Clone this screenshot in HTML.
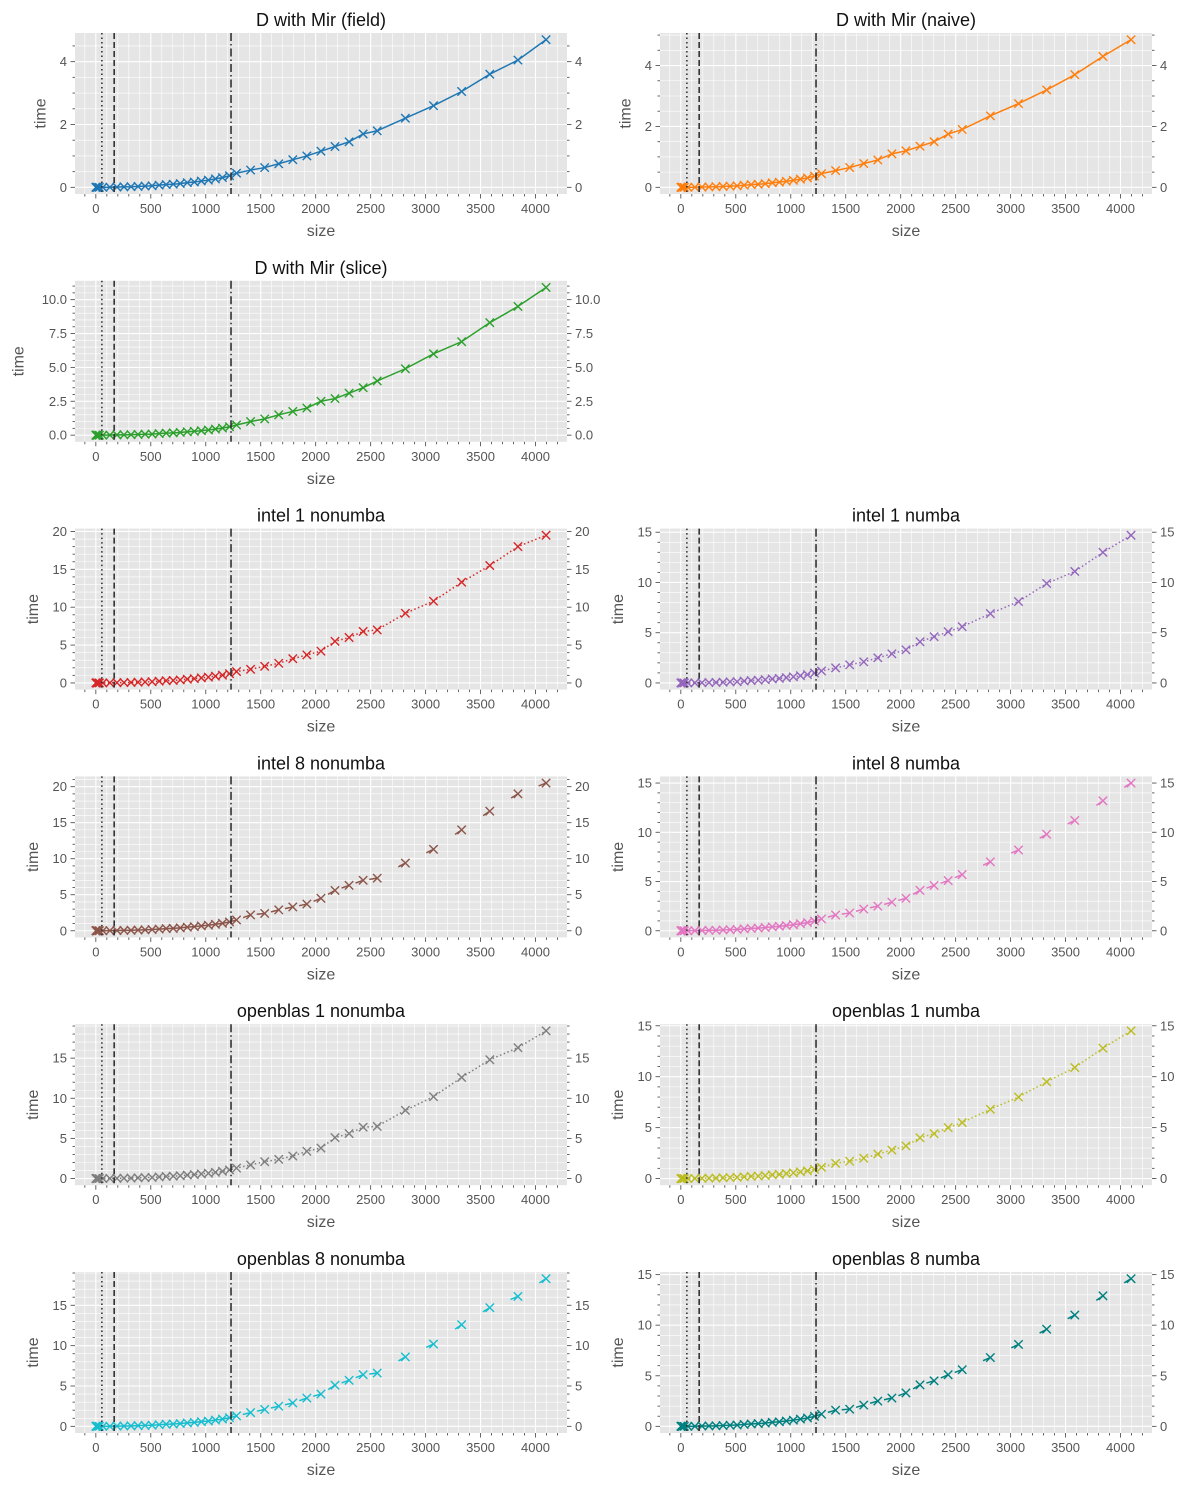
<!DOCTYPE html>
<html><head><meta charset="utf-8"><style>
body{margin:0;background:#fff;}
svg{display:block;font-family:"Liberation Sans","DejaVu Sans",sans-serif;}
</style></head><body>
<svg id="fig" width="1189" height="1489" viewBox="0 0 1189 1489" xmlns="http://www.w3.org/2000/svg">
<rect width="1189" height="1489" fill="#fff"/>
</svg>
<script>
const sizes = [1,2,4,8,16,32,64,128,192,256,320,384,448,512,576,640,704,768,832,896,960,1024,1088,1152,1216,1280,1408,1536,1664,1792,1920,2048,2176,2304,2432,2560,2816,3072,3328,3584,3840,4096];
const vlineSizes = [55,167,1230];
const vlineDash = ["1.5 3","6 3","8 3 1.5 3"];
const fieldTimes = [0,0,0,0,0,0,0,0.005,0.01,0.015,0.02,0.03,0.04,0.05,0.07,0.09,0.1,0.12,0.15,0.17,0.2,0.23,0.27,0.31,0.37,0.45,0.55,0.63,0.75,0.88,1.0,1.15,1.3,1.45,1.7,1.8,2.2,2.6,3.05,3.6,4.05,4.7];
const naiveTimes = [0,0,0,0,0,0,0,0.005,0.01,0.015,0.02,0.03,0.04,0.05,0.07,0.09,0.1,0.12,0.15,0.17,0.2,0.23,0.27,0.31,0.37,0.45,0.55,0.65,0.78,0.9,1.1,1.2,1.35,1.5,1.75,1.9,2.35,2.75,3.2,3.7,4.3,4.85];
const sliceTimes = [0,0,0,0,0,0,0,0.01,0.02,0.025,0.035,0.05,0.07,0.08,0.12,0.15,0.17,0.2,0.25,0.28,0.33,0.38,0.45,0.52,0.62,0.75,1.0,1.2,1.5,1.75,2.0,2.5,2.7,3.1,3.5,4.0,4.9,6.0,6.9,8.3,9.5,10.9];
const intel1NoNumba = [0,0,0,0,0,0,0,0.02,0.03,0.05,0.07,0.1,0.13,0.17,0.23,0.3,0.33,0.4,0.5,0.57,0.67,0.77,0.9,1.03,1.23,1.5,1.8,2.2,2.6,3.2,3.7,4.2,5.5,6.0,6.8,7.0,9.2,10.8,13.3,15.5,18.0,19.5];
const intel1Numba = [0,0,0,0,0,0,0,0.01,0.03,0.04,0.05,0.08,0.11,0.13,0.19,0.24,0.27,0.32,0.4,0.45,0.53,0.61,0.72,0.83,0.99,1.2,1.5,1.8,2.1,2.5,2.9,3.3,4.1,4.6,5.1,5.6,6.9,8.1,9.9,11.1,13.0,14.7];
const intel8NoNumba = [0,0,0,0,0,0,0,0.02,0.03,0.05,0.07,0.1,0.13,0.17,0.23,0.3,0.33,0.4,0.5,0.57,0.67,0.77,0.9,1.03,1.23,1.5,2.2,2.4,2.9,3.3,3.7,4.5,5.6,6.3,7.0,7.3,9.4,11.3,14.0,16.6,19.0,20.5];
const intel8Numba = [0,0,0,0,0,0,0,0.01,0.03,0.04,0.05,0.08,0.11,0.13,0.19,0.24,0.27,0.32,0.4,0.45,0.53,0.61,0.72,0.83,0.99,1.2,1.6,1.8,2.2,2.5,2.9,3.3,4.1,4.6,5.1,5.7,7.0,8.2,9.8,11.2,13.2,15.0];
const openblas1NoNumba = [0,0,0,0,0,0,0,0.01,0.03,0.04,0.06,0.09,0.12,0.14,0.2,0.26,0.29,0.35,0.43,0.49,0.58,0.66,0.78,0.9,1.07,1.3,1.7,2.1,2.4,2.8,3.4,3.8,5.1,5.6,6.4,6.5,8.5,10.2,12.6,14.8,16.3,18.4];
const openblas1Numba = [0,0,0,0,0,0,0,0.01,0.02,0.04,0.05,0.07,0.1,0.12,0.17,0.22,0.24,0.29,0.37,0.41,0.49,0.56,0.66,0.76,0.9,1.1,1.5,1.7,2.0,2.4,2.8,3.2,4.0,4.4,5.0,5.5,6.8,8.0,9.5,10.9,12.8,14.5];
const openblas8NoNumba = [0,0,0,0,0,0,0,0.01,0.03,0.04,0.06,0.09,0.12,0.14,0.2,0.26,0.29,0.35,0.43,0.49,0.58,0.66,0.78,0.9,1.07,1.3,1.7,2.1,2.5,2.9,3.5,4.0,5.1,5.7,6.4,6.6,8.6,10.2,12.6,14.7,16.1,18.3];
const openblas8Numba = [0,0,0,0,0,0,0,0.01,0.03,0.04,0.05,0.08,0.11,0.13,0.19,0.24,0.27,0.32,0.4,0.45,0.53,0.61,0.72,0.83,0.99,1.2,1.6,1.7,2.1,2.5,2.8,3.3,4.1,4.5,5.1,5.6,6.8,8.1,9.6,11.0,12.9,14.6];

const panels = [
 {title:"D with Mir (field)", data:fieldTimes, color:"#1f77b4", style:"solid", col:0, row:0, name:"field"},
 {title:"D with Mir (naive)", data:naiveTimes, color:"#ff7f0e", style:"solid", col:1, row:0, name:"naive"},
 {title:"D with Mir (slice)", data:sliceTimes, color:"#2ca02c", style:"solid", col:0, row:1, name:"slice"},
 {title:"intel 1 nonumba", data:intel1NoNumba, color:"#d62728", style:"dotted", col:0, row:2, name:"intel-1-nonumba"},
 {title:"intel 1 numba", data:intel1Numba, color:"#9467bd", style:"dotted", col:1, row:2, name:"intel-1-numba"},
 {title:"intel 8 nonumba", data:intel8NoNumba, color:"#8c564b", style:"seg", col:0, row:3, name:"intel-8-nonumba"},
 {title:"intel 8 numba", data:intel8Numba, color:"#e377c2", style:"seg", col:1, row:3, name:"intel-8-numba"},
 {title:"openblas 1 nonumba", data:openblas1NoNumba, color:"#7f7f7f", style:"dotted", col:0, row:4, name:"openblas-1-nonumba"},
 {title:"openblas 1 numba", data:openblas1Numba, color:"#bcbd22", style:"dotted", col:1, row:4, name:"openblas-1-numba"},
 {title:"openblas 8 nonumba", data:openblas8NoNumba, color:"#17becf", style:"seg", col:0, row:5, name:"openblas-8-nonumba"},
 {title:"openblas 8 numba", data:openblas8Numba, color:"#008080", style:"seg", col:1, row:5, name:"openblas-8-numba"}
];

const NS="http://www.w3.org/2000/svg";
const fig=document.getElementById('fig');
function mk(tag,attrs,parent){const e=document.createElementNS(NS,tag);for(const k in attrs)e.setAttribute(k,attrs[k]);(parent||fig).appendChild(e);return e;}

function niceStep(range){
  const c=[1,2,2.5,5,10];
  const p=Math.pow(10,Math.floor(Math.log10(range/5)));
  for(const m of c){ if(range/(m*p)<=5) return m*p; }
  return 10*p;
}

panels.forEach(p=>{
  const L = p.col ? 660 : 75, W = 492, H = 161;
  const T = 33 + p.row*247.8;
  const g = mk('g',{});
  
  
  const sxMin=Math.min(...sizes), sxMax=Math.max(...sizes);
  const xr=sxMax-sxMin;
  const xmin=sxMin-0.0465*xr, xmax=sxMax+0.0465*xr;
  const dmax=Math.max(...p.data), dmin=Math.min(...p.data);
  const yr=dmax-dmin;
  const ymin=dmin-0.045*yr, ymax=dmax+0.045*yr;
  const X=v=>L+(v-xmin)/(xmax-xmin)*W;
  const Y=v=>T+H-(v-ymin)/(ymax-ymin)*H;
  const bg=mk('rect',{x:L,y:T,width:W,height:H,fill:"#e5e5e5"},g);
  
  
  const xStep=500, xMinor=100;
  for(let v=Math.ceil(xmin/xMinor)*xMinor; v<=xmax; v+=xMinor){
    const major = Math.abs(v%xStep)<1e-6;
    const x=X(v);
    mk('line',{x1:x,x2:x,y1:T,y2:T+H,stroke:"#fff","stroke-width":major?1.1:0.6},g);
    mk('line',{x1:x,x2:x,y1:T+H,y2:T+H+(major?4.5:2.5),stroke:"#555","stroke-width":0.9},g);
    if(major){
      const t=mk('text',{x:x,y:T+H+19,"font-size":"13","fill":"#555","text-anchor":"middle"},g);
      t.textContent=String(v);
      
      
    }
  }
  const yStep=niceStep(ymax-ymin);
  const mant=yStep/Math.pow(10,Math.floor(Math.log10(yStep)));
  const ndiv=(Math.abs(mant-2)<1e-9)?4:5;
  const yMinor=yStep/ndiv;
  let maxLabW=0;
  for(let k=Math.ceil(ymin/yMinor-1e-9); k*yMinor<=ymax+1e-9; k++){
    const v=k*yMinor;
    const major=(k%ndiv===0);
    const y=Y(v);
    mk('line',{x1:L,x2:L+W,y1:y,y2:y,stroke:"#fff","stroke-width":major?1.1:0.6},g);
    const tl=major?4.5:2.5;
    mk('line',{x1:L-tl,x2:L,y1:y,y2:y,stroke:"#555","stroke-width":0.9},g);
    mk('line',{x1:L+W,x2:L+W+tl,y1:y,y2:y,stroke:"#555","stroke-width":0.9},g);
    if(major){
      const lab=(yStep%1!==0)?v.toFixed(1):String(Math.round(v));
      maxLabW=Math.max(maxLabW,lab.length*7.4);
      const t1=mk('text',{x:L-8,y:y+4.5,"font-size":"13","fill":"#555","text-anchor":"end"},g);
      t1.textContent=lab;
      
      
      const t2=mk('text',{x:L+W+8,y:y+4.5,"font-size":"13","fill":"#555","text-anchor":"start"},g);
      t2.textContent=lab;
      
      
    }
  }
  const pts=sizes.map((s,i)=>[X(s),Y(p.data[i])]);
  if(p.style==="solid"||p.style==="dotted"){
    const pl=mk('polyline',{points:pts.map(q=>q.join(',')).join(' '),fill:"none",stroke:p.color,"stroke-width":1.5,"stroke-dasharray":p.style==="dotted"?"1.5 2.5":"none"},g);
    
    
  } else {
    for(let i=1;i<pts.length;i++){
      const [x1,y1]=pts[i],[x0,y0]=pts[i-1];
      const d=Math.hypot(x1-x0,y1-y0); if(d<0.01) continue;
      const len=Math.min(8,d);
      const seg=mk('line',{x1:x1,y1:y1,x2:x1+(x0-x1)/d*len,y2:y1+(y0-y1)/d*len,stroke:p.color,"stroke-width":1.5},g);
      
      
    }
  }
  pts.forEach(([x,y])=>{
    const m=mk('path',{d:`M${x-4.2},${y-4.2}L${x+4.2},${y+4.2}M${x-4.2},${y+4.2}L${x+4.2},${y-4.2}`,stroke:p.color,"stroke-width":1.4,fill:"none"},g);
    
    
  });
  vlineSizes.forEach((v,i)=>{
    const x=X(v);
    const vl=mk('line',{x1:x,x2:x,y1:T,y2:T+H,stroke:"#333","stroke-width":1.6,"stroke-dasharray":vlineDash[i]},g);
    
    
  });
  const tt=mk('text',{x:L+W/2,y:T-7,"font-size":"18","fill":"#111","text-anchor":"middle"},g);
  tt.textContent=p.title;
  
  
  const xl=mk('text',{x:L+W/2,y:T+H+42,"font-size":"16","fill":"#555","text-anchor":"middle"},g);
  xl.textContent="size";
  
  
  const yx=L-22-maxLabW;
  const yl=mk('text',{x:yx,y:T+H/2,"font-size":"16","fill":"#555","text-anchor":"middle",transform:`rotate(-90 ${yx} ${T+H/2})`},g);
  yl.textContent="time";
  
  
});
</script>
</body></html>
